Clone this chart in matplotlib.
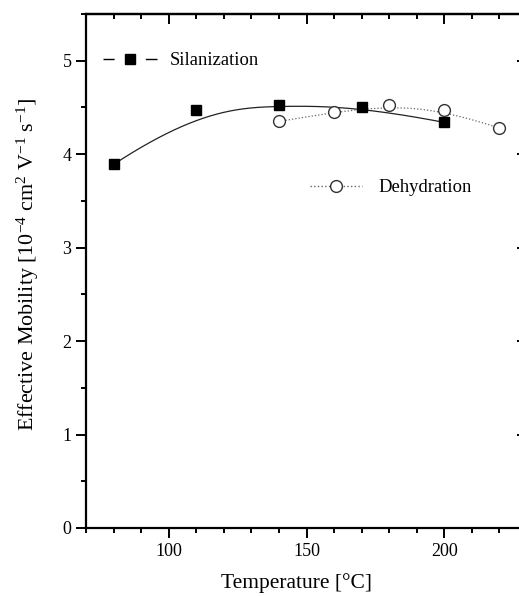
import numpy as np
import matplotlib
matplotlib.use("Agg")
import matplotlib.pyplot as plt
from matplotlib.lines import Line2D
from matplotlib.legend_handler import HandlerTuple
from matplotlib.ticker import MultipleLocator

plt.rcParams["font.family"] = "Liberation Serif"
plt.rcParams["mathtext.fontset"] = "custom"
plt.rcParams["mathtext.rm"] = "Liberation Serif"
plt.rcParams["mathtext.it"] = "Liberation Serif:italic"

# data
sil_t = [80, 110, 140, 170, 200]
sil_mu = [3.89, 4.47, 4.53, 4.51, 4.34]
deh_t = [140, 160, 180, 200, 220]
deh_mu = [4.35, 4.45, 4.53, 4.47, 4.28]


def bspline(xs, ys, k=3, n=300):
    """Clamped B-spline using the data points as control points (Origin style)."""
    P = np.column_stack([xs, ys]).astype(float)
    m = len(P)
    knots = np.concatenate([np.zeros(k), np.arange(m - k + 1), np.full(k, m - k)]).astype(float)
    u = np.linspace(0, m - k, n)
    u[-1] -= 1e-9
    # Cox-de Boor
    N = np.array([((knots[i] <= u) & (u < knots[i + 1])).astype(float)
                  for i in range(len(knots) - 1)])
    for d in range(1, k + 1):
        Nn = np.zeros((len(knots) - 1 - d, n))
        for i in range(len(knots) - 1 - d):
            a = knots[i + d] - knots[i]
            b = knots[i + d + 1] - knots[i + 1]
            t1 = (u - knots[i]) / a * N[i] if a > 0 else 0
            t2 = (knots[i + d + 1] - u) / b * N[i + 1] if b > 0 else 0
            Nn[i] = t1 + t2
        N = Nn
    C = N.T @ P
    return C[:, 0], C[:, 1]


W, H = 519, 596
fig = plt.figure(figsize=(W / 100, H / 100), dpi=100)
ax = fig.add_axes([86 / W, 68 / H, 441 / W, 514 / H])

sx, sy = bspline(sil_t, sil_mu)
ax.plot(sx, sy, color="#222222", lw=0.9)
dx, dy = bspline(deh_t, deh_mu)
ax.plot(dx, dy, color="#666666", lw=0.9, ls=":")

ax.plot(sil_t, sil_mu, ls="none", marker="s", ms=7, color="black")
ax.plot(deh_t, deh_mu, ls="none", marker="o", ms=8.5, mfc="white", mec="#333333", mew=1.0)

ax.set_xlim(70, 230)
ax.set_ylim(0, 5.5)
ax.xaxis.set_major_locator(MultipleLocator(50))
ax.xaxis.set_minor_locator(MultipleLocator(10))
ax.yaxis.set_major_locator(MultipleLocator(1))
ax.yaxis.set_minor_locator(MultipleLocator(0.5))
ax.tick_params(which="major", direction="out", length=7, width=1.4, labelsize=13)
ax.tick_params(which="minor", direction="out", length=3.5, width=1.4)
for s in ax.spines.values():
    s.set_linewidth(1.6)

top = ax.secondary_xaxis("top")
top.xaxis.set_major_locator(MultipleLocator(50))
top.xaxis.set_minor_locator(MultipleLocator(10))
top.tick_params(which="major", direction="in", length=7, width=1.4, labeltop=False)
top.tick_params(which="minor", direction="in", length=3.5, width=1.4)
top.spines["top"].set_linewidth(1.6)
right = ax.secondary_yaxis("right")
right.yaxis.set_major_locator(MultipleLocator(1))
right.yaxis.set_minor_locator(MultipleLocator(0.5))
right.tick_params(which="major", direction="in", length=7, width=1.4, labelright=False)
right.tick_params(which="minor", direction="in", length=3.5, width=1.4)

ax.set_xlabel("Temperature [°C]", fontsize=15.5)
ax.xaxis.set_label_coords(0.478, -0.088)
ax.set_ylabel("Effective Mobility [10$^{-4}$ cm$^{2}$ V$^{-1}$ s$^{-1}$]", fontsize=15.8)
ax.yaxis.set_label_coords(-0.102, 0.512)

# legend handles: line with gaps around the marker
h1 = (Line2D([], [], color="black", lw=1.0, dashes=(8, 22.5, 9, 100)),
      Line2D([], [], ls="none", color="black", marker="s", ms=7.5))
h2 = (Line2D([], [], color="#666666", lw=1.0, ls=":"),
      Line2D([], [], ls="none", marker="o", ms=8.5, mfc="white", mec="#333333", mew=1.0))
leg1 = ax.legend([h1], ["Silanization"], loc="center left", bbox_to_anchor=(0.038, 0.909),
                 frameon=False, borderpad=0, borderaxespad=0, handlelength=2.9,
                 handletextpad=0.7, fontsize=13.4,
                 handler_map={tuple: HandlerTuple(ndivide=1)})
ax.add_artist(leg1)
ax.legend([h2], ["Dehydration"], loc="center left", bbox_to_anchor=(0.508, 0.662),
          frameon=False, borderpad=0, borderaxespad=0, handlelength=2.8,
          handletextpad=0.85, fontsize=13.4,
          handler_map={tuple: HandlerTuple(ndivide=1)})

fig.savefig("out.png", dpi=100)
